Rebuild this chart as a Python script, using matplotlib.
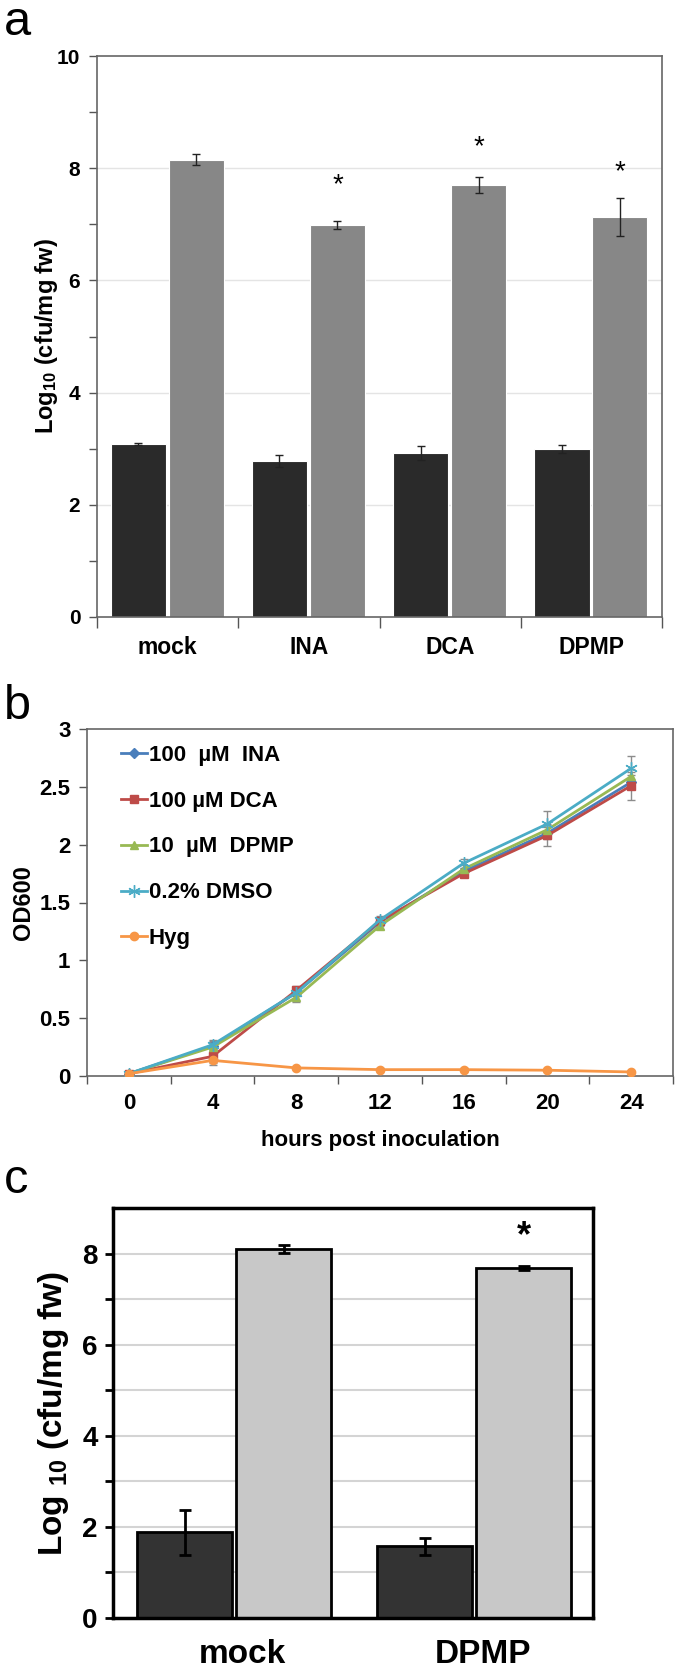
import numpy as np
import matplotlib
matplotlib.use('Agg')
import matplotlib.pyplot as plt

plt.rcParams['font.family'] = ['Liberation Sans', 'DejaVu Sans']
plt.rcParams['font.weight'] = 'bold'
plt.rcParams['axes.labelweight'] = 'bold'
plt.rcParams['mathtext.fontset'] = 'custom'
plt.rcParams['mathtext.rm'] = 'Liberation Sans:bold'
plt.rcParams['mathtext.it'] = 'Liberation Sans:bold'
plt.rcParams['mathtext.bf'] = 'Liberation Sans:bold'

# ---- panel a data
a_groups = ['mock', 'INA', 'DCA', 'DPMP']
a_dark = [3.09, 2.78, 2.92, 2.99]
a_dark_err = [0.02, 0.10, 0.12, 0.07]
a_gray = [8.15, 6.99, 7.70, 7.13]
a_gray_err = [0.10, 0.07, 0.15, 0.33]
a_star = [None, 7.70, 8.38, 7.93]

# ---- panel b data
b_hours = ['0', '4', '8', '12', '16', '20', '24']
b_labels = ['100  \u00b5M  INA', '100 \u00b5M DCA', '10  \u00b5M  DPMP', '0.2% DMSO', 'Hyg']
b_ina = [0.02, 0.26, 0.72, 1.33, 1.77, 2.10, 2.54]
b_dca = [0.02, 0.17, 0.74, 1.34, 1.75, 2.08, 2.51]
b_dpmp = [0.02, 0.25, 0.68, 1.30, 1.79, 2.13, 2.59]
b_dmso = [0.02, 0.27, 0.72, 1.35, 1.84, 2.18, 2.66]
b_hyg = [0.02, 0.135, 0.07, 0.055, 0.055, 0.05, 0.035]
b_ina_err = [0.01, 0.04, 0.03, 0.03, 0.03, 0.05, 0.06]
b_dca_err = [0.01, 0.06, 0.04, 0.03, 0.03, 0.09, 0.12]
b_dpmp_err = [0.01, 0.04, 0.04, 0.03, 0.03, 0.05, 0.06]
b_dmso_err = [0.01, 0.04, 0.03, 0.03, 0.04, 0.11, 0.11]
b_hyg_err = [0.01, 0.04, 0.01, 0.01, 0.01, 0.01, 0.01]

# ---- panel c data
c_groups = ['mock', 'DPMP']
c_dark = [1.88, 1.57]
c_dark_err = [0.49, 0.19]
c_gray = [8.10, 7.68]
c_gray_err = [0.09, 0.05]
c_star = [None, 8.36]

W, H = 675, 1671
fig = plt.figure(figsize=(W / 100, H / 100), dpi=100)


def box(l, t, r, b):
    return [l / W, 1 - b / H, (r - l) / W, (b - t) / H]


# ================= panel a
ax = fig.add_axes(box(97, 56, 662, 617))
x = np.arange(len(a_groups))
ax.bar(x + 0.292, a_dark, 0.39, color='#2a2a2a', edgecolor='white', lw=0.8, zorder=2)
ax.bar(x + 0.702, a_gray, 0.39, color='#878787', edgecolor='white', lw=0.8, zorder=2)
ax.errorbar(x + 0.292, a_dark, yerr=a_dark_err, fmt='none', ecolor='#222222', elinewidth=1, capsize=3, zorder=3)
ax.errorbar(x + 0.702, a_gray, yerr=a_gray_err, fmt='none', ecolor='#222222', elinewidth=1, capsize=3, zorder=3)
for i, s in enumerate(a_star):
    if s is not None:
        ax.text(i + 0.702, s, '*', ha='center', va='center', fontsize=20, fontweight='normal')
ax.set_xlim(0, 4)
ax.set_ylim(0, 10)
ax.set_yticks([0, 2, 4, 6, 8, 10])
ax.set_yticks([1, 3, 5, 7, 9], minor=True)
ax.set_yticklabels(['0', '2', '4', '6', '8', '10'], fontsize=15)
for g in [2, 4, 6, 8]:
    ax.axhline(g, color='#e4e4e4', lw=1, zorder=1)
ax.set_xticks([0, 1, 2, 3, 4])
ax.set_xticklabels([])
ax.set_xticks(x + 0.5, minor=True)
ax.set_xticklabels(a_groups, minor=True, fontsize=16.5)
ax.tick_params(axis='x', which='minor', length=0, pad=14)
ax.tick_params(axis='x', which='major', length=8, width=1, color='#555555')
ax.tick_params(axis='y', which='both', length=6, width=1, color='#555555', pad=6)
for sp in ax.spines.values():
    sp.set_color('#666666')
    sp.set_linewidth(1.2)
ax.set_ylabel('Log$_{10}$ (cfu/mg fw)', fontsize=17, labelpad=-2)
fig.text(4 / W, 1 - 35 / H, 'a', fontsize=35, fontweight='normal', va='baseline')

# ================= panel b
ax = fig.add_axes(box(87, 729, 673, 1076))
xb = np.arange(len(b_hours))
series = [
    (b_ina, b_ina_err, '#4a7ebb', 'D', 5),
    (b_dca, b_dca_err, '#be4b48', 's', 6),
    (b_dpmp, b_dpmp_err, '#98b954', '^', 6),
    (b_dmso, b_dmso_err, '#4bacc6', (6, 2, 0), 9),
    (b_hyg, b_hyg_err, '#f79646', 'o', 6),
]
handles = []
for (vals, err, col, mk, ms), lab in zip(series, b_labels):
    ax.errorbar(xb, vals, yerr=err, fmt='none', ecolor='#8c8c8c', elinewidth=1, capsize=3, zorder=2)
    h, = ax.plot(xb, vals, color=col, marker=mk, ms=ms, lw=2, label=lab, zorder=3,
                 markeredgecolor=col)
    handles.append(h)
ax.set_xlim(-0.5, 6.5)
ax.set_ylim(0, 3)
ax.set_yticks([0, 0.5, 1, 1.5, 2, 2.5, 3])
ax.set_yticklabels(['0', '0.5', '1', '1.5', '2', '2.5', '3'], fontsize=16)
ax.set_xticks(np.arange(-0.5, 7, 1))
ax.set_xticklabels([])
ax.set_xticks(xb, minor=True)
ax.set_xticklabels(b_hours, minor=True, fontsize=16)
ax.tick_params(axis='x', which='minor', length=0, pad=12)
ax.tick_params(axis='x', which='major', length=6, width=1, color='#555555')
ax.tick_params(axis='y', length=6, width=1, color='#555555', pad=6)
for sp in ax.spines.values():
    sp.set_color('#666666')
    sp.set_linewidth(1.2)
ax.set_xlabel('hours post inoculation', fontsize=16, labelpad=12)
ax.set_ylabel('OD600', fontsize=17, labelpad=3)
ax.legend(handles=handles, loc='upper left', bbox_to_anchor=(0.058, 0.955), frameon=False,
          fontsize=16, handlelength=1.17, handletextpad=0.08, labelspacing=1.12,
          borderpad=0, borderaxespad=0)
fig.text(4 / W, 1 - 719 / H, 'b', fontsize=35, fontweight='normal', va='baseline')

# ================= panel c
ax = fig.add_axes(box(113, 1208, 593, 1618))
xc = np.arange(len(c_groups))
ax.bar(xc + 0.299, c_dark, 0.395, color='#333333', edgecolor='black', lw=2, zorder=2)
ax.bar(xc + 0.712, c_gray, 0.395, color='#c8c8c8', edgecolor='black', lw=2, zorder=2)
ax.errorbar(xc + 0.299, c_dark, yerr=c_dark_err, fmt='none', ecolor='black', elinewidth=2, capsize=4, capthick=2, zorder=3)
ax.errorbar(xc + 0.712, c_gray, yerr=c_gray_err, fmt='none', ecolor='black', elinewidth=2, capsize=4, capthick=2, zorder=3)
for i, s in enumerate(c_star):
    if s is not None:
        ax.text(i + 0.712, s, '*', ha='center', va='center', fontsize=26, fontweight='bold')
ax.set_xlim(0, 2)
ax.set_ylim(0, 9)
for g in range(1, 9):
    ax.axhline(g, color='#d4d4d4', lw=1.5, zorder=1)
ax.set_yticks([0, 2, 4, 6, 8])
ax.set_yticks([1, 3, 5, 7], minor=True)
ax.set_yticklabels(['0', '2', '4', '6', '8'], fontsize=20)
ax.set_xticks(xc + 0.54)
ax.set_xticklabels(c_groups, fontsize=24)
ax.tick_params(axis='x', length=0, pad=15)
ax.tick_params(axis='y', which='both', length=6, width=2, pad=5)
for sp in ax.spines.values():
    sp.set_color('black')
    sp.set_linewidth(2.5)
ax.set_ylabel('Log $_{10}$ (cfu/mg fw)', fontsize=24, labelpad=8)
fig.text(4 / W, 1 - 1193 / H, 'c', fontsize=35, fontweight='normal', va='baseline')

fig.savefig('out.png', dpi=100)
